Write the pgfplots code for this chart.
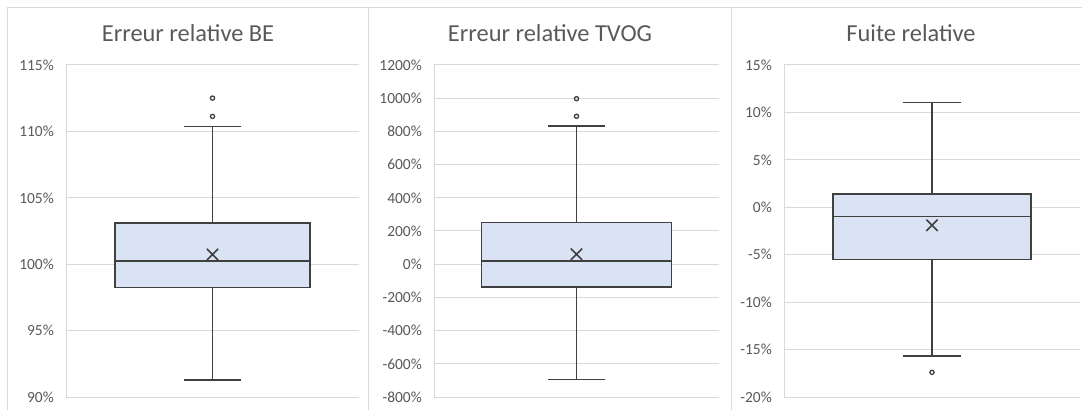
\documentclass[border=0pt]{standalone}
\usepackage{pgfplots}
\pgfplotsset{compat=1.18}
\usepgfplotslibrary{statistics}
\usepackage{fontspec}
\setmainfont{Carlito}
\definecolor{boxfill}{HTML}{DAE3F3}
\definecolor{boxline}{HTML}{404040}
\definecolor{gridc}{HTML}{D9D9D9}
\definecolor{txt}{HTML}{595959}
\pgfplotsset{
  panel/.style={
    scale only axis, anchor=south west, height=332bp,
    xmin=0, xmax=1, xtick=\empty,
    axis x line=none, axis y line*=left,
    y axis line style={draw=gridc, line width=1bp},
    major tick length=0pt,
    ymajorgrids, grid style={draw=gridc, line width=1bp},
    yticklabel style={font=\fontsize{15.5}{18}\selectfont, text=txt, inner sep=0pt, anchor=east, xshift=-12bp},
    enlargelimits=false,
  },
  bx/.style={
    draw=boxline, line width=1.6bp, fill=boxfill,
    mark=o, mark size=2.1bp, mark options={line width=1.3bp, draw=boxline, fill=boxfill},
    boxplot/draw direction=y,
    boxplot/draw position=0.5, boxplot/box extend=0.667, boxplot/whisker extend=0.197,
    boxplot/every average/.style={/tikz/mark=x, /tikz/mark size=8bp, /tikz/mark options={draw=black, line width=1.2bp}},
  },
}
\begin{document}
\begin{tikzpicture}
\useasboundingbox (0bp,0bp) rectangle (1082bp,410bp);
\draw[gridc, line width=1bp] (7.5bp,-20bp) -- (7.5bp,402bp) -- (1100bp,402bp);
\draw[gridc, line width=1bp] (368.5bp,-20bp) -- (368.5bp,402bp);
\draw[gridc, line width=1bp] (731bp,-20bp) -- (731bp,402bp);

\begin{axis}[panel, at={(66bp,13bp)}, width=293bp,
  ymin=90, ymax=115, ytick={90,95,100,105,110,115},
  yticklabels={90\%,95\%,100\%,105\%,110\%,115\%}]
\addplot[bx, boxplot prepared={draw direction=y, draw position=0.5, median=100.25, upper quartile=103.1, lower quartile=98.25,
  upper whisker=110.38, lower whisker=91.29, average=100.73}]
  coordinates {(0,112.51) (0,111.13)};
\end{axis}

\begin{axis}[panel, at={(434bp,13bp)}, width=285bp,
  ymin=-800, ymax=1200, ytick={-800,-600,...,1200},
  yticklabels={-800\%,-600\%,-400\%,-200\%,0\%,200\%,400\%,600\%,800\%,1000\%,1200\%}]
\addplot[bx, boxplot prepared={draw direction=y, draw position=0.5, median=21, upper quartile=250, lower quartile=-139,
  upper whisker=831, lower whisker=-695, average=60}]
  coordinates {(0,997) (0,891)};
\end{axis}

\begin{axis}[panel, at={(784bp,13bp)}, width=296bp,
  ymin=-20, ymax=15, ytick={-20,-15,...,15},
  yticklabels={-20\%,-15\%,-10\%,-5\%,0\%,5\%,10\%,15\%}]
\addplot[bx, boxplot prepared={draw direction=y, draw position=0.5, median=-0.96, upper quartile=1.4, lower quartile=-5.5,
  upper whisker=11.03, lower whisker=-15.7, average=-1.9}]
  coordinates {(0,-17.4)};
\end{axis}

\node[anchor=base, font=\fontsize{24.5}{28}\selectfont, text=txt] at (188bp,368bp) {Erreur relative BE};
\node[anchor=base, font=\fontsize{24.5}{28}\selectfont, text=txt] at (550bp,368bp) {Erreur relative TVOG};
\node[anchor=base, font=\fontsize{24.5}{28}\selectfont, text=txt] at (911bp,368bp) {Fuite relative};
\end{tikzpicture}
\end{document}
